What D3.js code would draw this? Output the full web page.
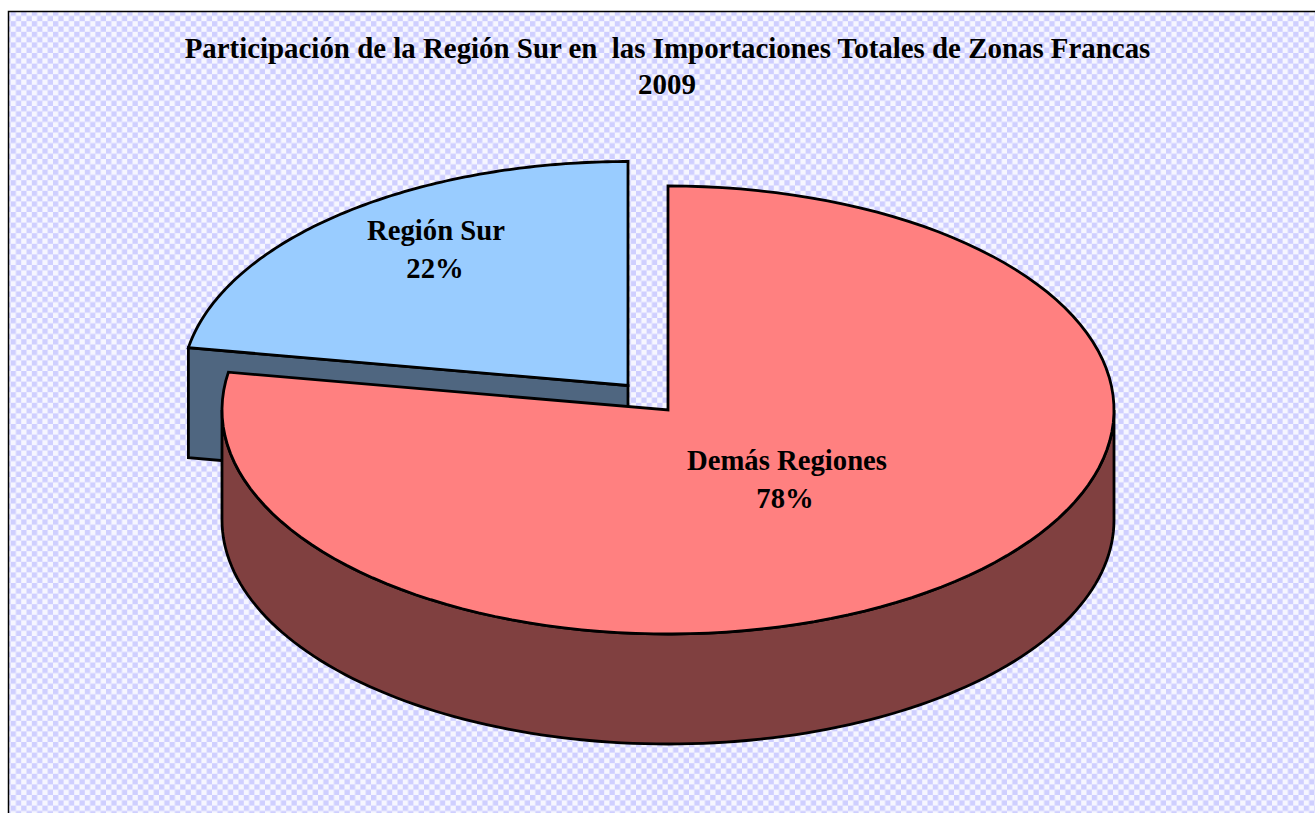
<!DOCTYPE html>
<html>
<head>
<meta charset="utf-8">
<script src="https://cdn.jsdelivr.net/npm/d3@7"></script>
<style>
html,body{margin:0;padding:0;background:#fff;overflow:hidden}
text{font-family:"Liberation Serif","Times New Roman",serif;font-weight:bold;fill:#000}
</style>
</head>
<body>
<svg id="c" width="1315" height="813"></svg>
<script>
const titleLines = ["Participación de la Región Sur en  las Importaciones Totales de Zonas Francas", "2009"];
const categories = ["Demás Regiones", "Región Sur"];
const shares = [77.7, 22.3];
const labelsPct = ["78%", "22%"];
const topColors = ["#ff8080", "#99ccff"];
const sideColors = ["#804040", "#4f6680"];

const svg = d3.select("#c");
const W = 1315, H = 813;

const defs = svg.append("defs");
const cell = 5.3;
const pat = defs.append("pattern").attr("id","bg").attr("patternUnits","userSpaceOnUse")
  .attr("width",cell*2).attr("height",cell*2);
pat.append("rect").attr("width",cell*2).attr("height",cell*2).attr("fill","#f6f6ff");
pat.append("rect").attr("width",cell).attr("height",cell).attr("fill","#cfcfff");
pat.append("rect").attr("x",cell).attr("y",cell).attr("width",cell).attr("height",cell).attr("fill","#cfcfff");

svg.append("rect").attr("x",8.5).attr("y",11.5).attr("width",W).attr("height",H)
  .attr("fill","url(#bg)").attr("stroke","#000").attr("stroke-width",1.5);

// title
svg.selectAll("text.t").data(titleLines).join("text").attr("class","t")
  .attr("x",(d,i)=>i===0?667.5:667).attr("y",(d,i)=>58+i*36)
  .attr("text-anchor","middle").attr("font-size",28.9).attr("xml:space","preserve")
  .style("white-space","pre").text(d=>d);

// pie geometry
const RX = 446, RY = 224, DEPTH = 110;
const pie = d3.pie().sort(null).value(d=>d)(shares);
const sx = d3.scaleLinear().domain([-1,1]).range([-RX,RX]);
const sy = d3.scaleLinear().domain([-1,1]).range([-RY,RY]);
const pt = (c,a,dy=0)=>[c[0]+sx(Math.sin(a)), c[1]-sy(Math.cos(a))+dy];
const centers = [[668,410],[628,385.5]];
const sampled = (c,a0,a1,dy=0)=>d3.range(0,121).map(i=>pt(c,a0+(a1-a0)*i/120,dy));
const line = d3.line();
const stroke = s=>s.attr("stroke","#000").attr("stroke-width",2.8).attr("stroke-linejoin","miter");

// Region Sur slice (behind)
{
  const c = centers[1], p = pie[1];
  const e = pt(c,p.startAngle);
  stroke(svg.append("path")).attr("fill",sideColors[1])
    .attr("d", line([e, c, [c[0],c[1]+DEPTH], [e[0],e[1]+DEPTH]])+"Z");
  stroke(svg.append("path")).attr("fill",topColors[1])
    .attr("d", line([c, ...sampled(c,p.startAngle,p.endAngle)])+"Z");
}
// Demas Regiones slice (front)
{
  const c = centers[0], p = pie[0];
  const hp = Math.PI/2, a0 = hp, a1 = 3*hp;
  const front = sampled(c,a0,a1);
  const back = sampled(c,a1,a0,DEPTH);
  stroke(svg.append("path")).attr("fill",sideColors[0]).attr("d", line([...front,...back])+"Z");
  stroke(svg.append("path")).attr("fill",topColors[0])
    .attr("d", line([c, ...sampled(c,p.startAngle,p.endAngle)])+"Z");
}

// labels
const labelPos = [[787,470],[436,240]];
categories.forEach((name,i)=>{
  svg.append("text").attr("x",labelPos[i][0]).attr("y",labelPos[i][1])
    .attr("text-anchor","middle").attr("font-size",28.7).text(name);
  svg.append("text").attr("x",labelPos[i][0]-(i?1:2)).attr("y",labelPos[i][1]+38)
    .attr("text-anchor","middle").attr("font-size",28.7).text(labelsPct[i]);
});
</script>
</body>
</html>
